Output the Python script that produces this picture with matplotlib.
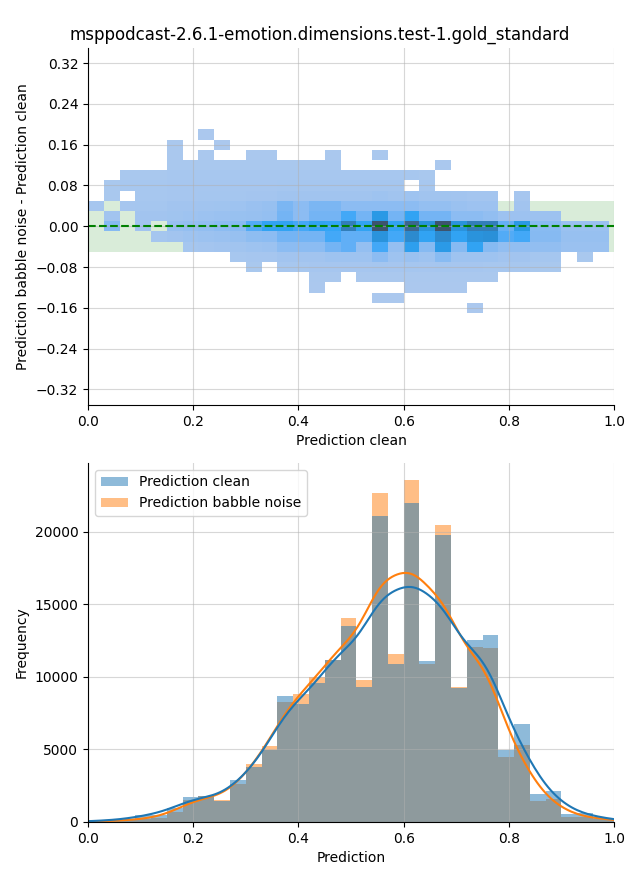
import numpy as np
import pandas as pd
import matplotlib
matplotlib.use("Agg")
import matplotlib.pyplot as plt
import seaborn as sns
from matplotlib.patches import Patch

TITLE = "msppodcast-2.6.1-emotion.dimensions.test-1.gold_standard"
LABEL_CLEAN = "Prediction clean"
LABEL_NOISE = "Prediction babble noise"

# 1d histograms, bins of width 0.03 starting at 0.0
bin_width = 0.03
clean_counts = [80, 120, 150, 500, 500, 950, 1710, 1800, 1450, 2900,
                3750, 4980, 8640, 8110, 9550, 11140, 13500, 9300, 21100, 10870,
                21940, 11070, 19750, 9200, 12500, 12870, 4940, 6710, 1940, 2150,
                550, 580, 260, 150]
babble_counts = [50, 60, 100, 230, 260, 700, 1520, 1780, 1500, 2620,
                 4000, 5200, 8240, 8790, 9990, 11140, 14050, 9760, 22630, 11560,
                 23550, 10870, 20480, 9320, 12050, 11970, 4450, 5330, 1460, 1570,
                 360, 370, 200, 120]

# 2d histogram of (clean, babble - clean), rows from top (0.18) to bottom (-0.16)
diff_bin_height = 0.02
diff_rows = [0.18, 0.16, 0.14, 0.12, 0.10, 0.08, 0.06, 0.04, 0.02, 0.00,
             -0.02, -0.04, -0.06, -0.08, -0.10, -0.12, -0.14, -0.16]
diff_counts = [
    [0, 0, 0, 0, 0, 0, 0, 60, 0, 0, 0, 0, 0, 0, 0, 0, 0, 0, 0, 0, 0, 0, 0, 0, 0, 0, 0, 0, 0, 0, 0, 0, 0],
    [0, 0, 0, 0, 0, 80, 0, 0, 60, 0, 0, 0, 0, 0, 0, 0, 0, 0, 0, 0, 0, 0, 0, 0, 0, 0, 0, 0, 0, 0, 0, 0, 0],
    [0, 0, 0, 0, 0, 100, 0, 100, 0, 0, 100, 100, 0, 0, 0, 100, 0, 0, 100, 0, 0, 0, 0, 0, 0, 0, 0, 0, 0, 0, 0, 0, 0],
    [0, 0, 0, 0, 0, 150, 150, 150, 150, 150, 150, 150, 150, 150, 150, 150, 0, 0, 0, 0, 0, 0, 80, 0, 0, 0, 0, 0, 0, 0, 0, 0, 0],
    [0, 0, 150, 150, 150, 200, 200, 200, 200, 200, 200, 200, 200, 200, 200, 200, 200, 200, 200, 200, 200, 150, 0, 0, 0, 0, 0, 0, 0, 0, 0, 0, 0],
    [0, 150, 200, 200, 200, 250, 250, 250, 250, 250, 250, 250, 300, 300, 300, 300, 300, 300, 300, 300, 0, 200, 0, 0, 0, 0, 0, 0, 0, 0, 0, 0, 0],
    [0, 150, 0, 200, 200, 250, 250, 300, 300, 300, 350, 350, 450, 450, 450, 450, 450, 450, 550, 450, 550, 450, 450, 400, 350, 350, 0, 250, 0, 0, 0, 0, 0],
    [250, 0, 250, 300, 300, 400, 400, 450, 500, 550, 700, 800, 1700, 1200, 1700, 1700, 1200, 1200, 1200, 1200, 1200, 900, 900, 700, 600, 600, 0, 400, 0, 0, 0, 0, 0],
    [0, 400, 0, 400, 400, 500, 550, 650, 700, 750, 800, 900, 1900, 1200, 1900, 1900, 3000, 1900, 4300, 1900, 3500, 1900, 1900, 1200, 1200, 1000, 600, 600, 600, 600, 0, 0, 0],
    [0, 1400, 0, 400, 0, 800, 900, 1000, 1200, 1300, 2700, 3500, 3500, 3000, 3500, 3300, 6500, 3500, 10000, 3500, 8500, 4800, 10000, 4800, 6500, 6500, 2300, 4300, 1300, 1300, 700, 700, 700],
    [0, 0, 0, 0, 300, 400, 550, 650, 700, 800, 1100, 1200, 1900, 1900, 1900, 3000, 2400, 2400, 4800, 3000, 5500, 3500, 5500, 3500, 4800, 5000, 2700, 3000, 1400, 1400, 800, 800, 800],
    [0, 0, 0, 0, 0, 0, 300, 350, 400, 450, 550, 650, 1200, 1200, 1200, 1900, 2400, 900, 3000, 900, 3800, 1400, 4200, 1400, 3500, 1400, 1000, 1000, 1000, 1000, 700, 700, 700],
    [0, 0, 0, 0, 0, 0, 0, 0, 0, 200, 250, 250, 400, 400, 400, 550, 550, 550, 1200, 550, 700, 550, 1300, 550, 550, 550, 400, 400, 300, 300, 0, 150, 0],
    [0, 0, 0, 0, 0, 0, 0, 0, 0, 0, 120, 0, 200, 200, 250, 250, 250, 250, 300, 250, 300, 250, 300, 250, 250, 200, 200, 200, 120, 120, 0, 0, 0],
    [0, 0, 0, 0, 0, 0, 0, 0, 0, 0, 0, 0, 0, 0, 100, 100, 0, 100, 100, 100, 100, 100, 100, 100, 100, 100, 0, 0, 0, 0, 0, 0, 0],
    [0, 0, 0, 0, 0, 0, 0, 0, 0, 0, 0, 0, 0, 0, 60, 0, 0, 0, 0, 0, 60, 60, 60, 60, 0, 0, 0, 0, 0, 0, 0, 0, 0],
    [0, 0, 0, 0, 0, 0, 0, 0, 0, 0, 0, 0, 0, 0, 0, 0, 0, 0, 50, 50, 0, 0, 0, 0, 0, 0, 0, 0, 0, 0, 0, 0, 0],
    [0, 0, 0, 0, 0, 0, 0, 0, 0, 0, 0, 0, 0, 0, 0, 0, 0, 0, 0, 0, 0, 0, 0, 0, 40, 0, 0, 0, 0, 0, 0, 0, 0],
]


def draw_difference(ax):
    counts = np.array(diff_counts, dtype=float)
    n_cols = counts.shape[1]
    x_edges = np.arange(n_cols + 1) * bin_width
    x_centers = x_edges[:-1] + bin_width / 2
    rows = np.array(diff_rows)
    y_edges = np.append(np.sort(rows) - diff_bin_height / 2, rows.max() + diff_bin_height / 2)

    yy, xx = np.meshgrid(rows, x_centers, indexing="ij")
    keep = counts > 0
    df = pd.DataFrame({"x": xx[keep], "y": yy[keep], "n": counts[keep]})

    ax.axhspan(-0.05, 0.05, color="green", alpha=0.15, lw=0, zorder=0.5)
    sns.histplot(data=df, x="x", y="y", weights="n",
                 bins=[x_edges, y_edges], ax=ax)
    ax.axhline(0, color="green", linestyle="--", linewidth=1.5)

    ax.set_xlim(0, 1)
    ax.set_ylim(-0.35, 0.35)
    ax.set_yticks([-0.32, -0.24, -0.16, -0.08, 0.0, 0.08, 0.16, 0.24, 0.32])
    ax.grid(True, alpha=0.5)
    ax.set_xlabel("Prediction clean")
    ax.set_ylabel("Prediction babble noise - Prediction clean")


def draw_histograms(ax):
    n_bins = len(clean_counts)
    centers = (np.arange(n_bins) + 0.5) * bin_width
    df = pd.DataFrame({"x": centers, "clean": clean_counts, "babble": babble_counts})
    kde_kws = dict(bw_adjust=0.38, cut=1, clip=(0, 1))
    hist_kws = dict(binwidth=bin_width, binrange=(0, n_bins * bin_width), kde=True,
                    alpha=0.5, linewidth=0, kde_kws=kde_kws, ax=ax)

    # babble first so that the clean bars sit on top
    sns.histplot(data=df, x="x", weights="babble", color="C1", **hist_kws)
    sns.histplot(data=df, x="x", weights="clean", color="C0", **hist_kws)

    ax.set_xlim(0, 1)
    ax.grid(True, alpha=0.5)
    ax.set_xlabel("Prediction")
    ax.set_ylabel("Frequency")
    handles = [Patch(facecolor="C0", alpha=0.5, label=LABEL_CLEAN),
               Patch(facecolor="C1", alpha=0.5, label=LABEL_NOISE)]
    ax.legend(handles=handles, loc="upper left")


fig = plt.figure(figsize=(6.4, 8.8), dpi=100)
ax_top = fig.add_axes([0.1375, 0.540, 0.822, 0.4057])
ax_bottom = fig.add_axes([0.1375, 0.066, 0.822, 0.408])

draw_difference(ax_top)
draw_histograms(ax_bottom)
sns.despine(fig=fig)

fig.suptitle(TITLE, fontsize=12, y=0.971)
fig.savefig("out.png", dpi=100)
